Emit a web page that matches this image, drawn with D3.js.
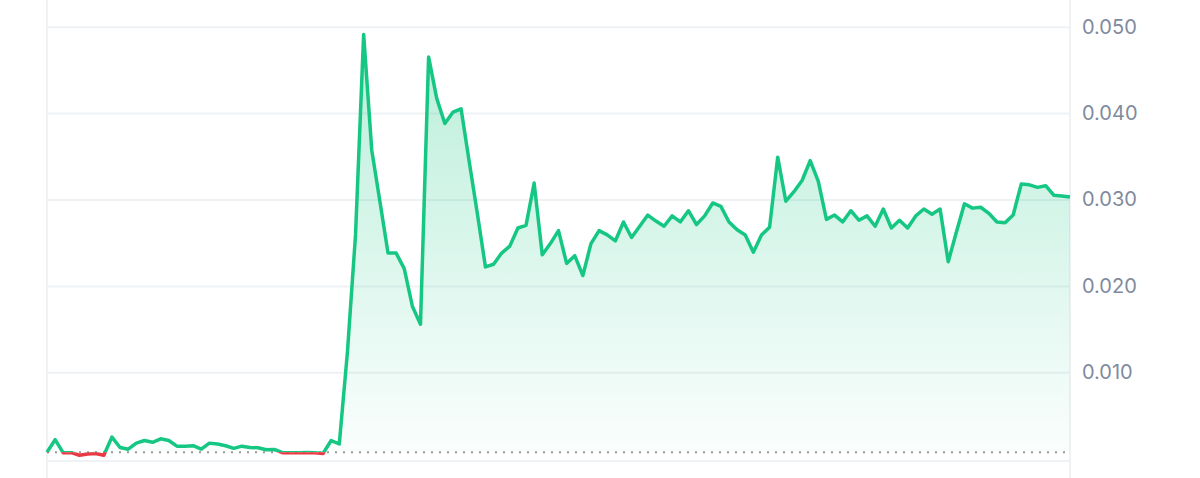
<!DOCTYPE html>
<html>
<head>
<meta charset="utf-8">
<script src="https://cdn.jsdelivr.net/npm/d3@7"></script>
<style>
  html, body { margin: 0; padding: 0; background: #fff; }
  svg { display: block; }
</style>
</head>
<body>
<div id="chart"></div>
<script>
(function () {
  'use strict';

  // price samples, left to right
  var prices = [
    0.00075, 0.0022, 0.00068, 0.0007, 0.0004, 0.00055, 0.0006, 0.0004, 0.0025, 0.0013,
    0.0011, 0.0018, 0.0021, 0.0019, 0.0023, 0.0021, 0.00145, 0.00145, 0.0015, 0.0011,
    0.0018, 0.0017, 0.0015, 0.0012, 0.00145, 0.0013, 0.00127, 0.00103, 0.00107, 0.0007,
    0.00068, 0.0007, 0.00071, 0.00069, 0.0006, 0.0021, 0.0017, 0.0123, 0.0259, 0.0491,
    0.0357, 0.0298, 0.0238, 0.0238, 0.0220, 0.01765, 0.01557, 0.0465, 0.0417, 0.0388,
    0.0401, 0.0405, 0.0344, 0.0284, 0.0222, 0.0225, 0.0238, 0.0246, 0.0267, 0.0270,
    0.0319, 0.0236, 0.0249, 0.0264, 0.0226, 0.0235, 0.0212, 0.0249, 0.0264, 0.0259,
    0.0252, 0.0274, 0.0256, 0.0269, 0.0282, 0.0275, 0.0269, 0.0281, 0.0274, 0.0287,
    0.0271, 0.0281, 0.0296, 0.0292, 0.0274, 0.0265, 0.0259, 0.0239, 0.0259, 0.0268,
    0.0349, 0.0298, 0.0309, 0.0322, 0.0345, 0.0321, 0.0277, 0.0282, 0.0274, 0.0287,
    0.0276, 0.0281, 0.0269, 0.0289, 0.0267, 0.0276, 0.0267, 0.0281, 0.0289, 0.0283,
    0.0289, 0.0228, 0.0262, 0.0295, 0.0290, 0.0291, 0.0284, 0.0274, 0.0273, 0.0282,
    0.0318, 0.0317, 0.0314, 0.0316, 0.0305, 0.0304, 0.0303
  ];

  var yTicks = [0.010, 0.020, 0.030, 0.040, 0.050];

  var width = 1200, height = 478;
  var left = 47, right = 1070, top = 0, bottom = 460.5;

  var green = "#16c784", red = "#ea3943";

  var svg = d3.select("#chart").append("svg")
      .attr("width", width)
      .attr("height", height);

  var x = d3.scaleLinear()
      .domain([0, prices.length - 1])
      .range([left, right]);

  var y = d3.scaleLinear()
      .domain([-0.00021, 0.05309])
      .range([bottom, top]);

  var baseValue = prices[0];
  var baseY = y(baseValue);

  var defs = svg.append("defs");

  var grad = defs.append("linearGradient")
      .attr("id", "areaFill")
      .attr("gradientUnits", "userSpaceOnUse")
      .attr("x1", 0).attr("x2", 0)
      .attr("y1", y(d3.max(prices))).attr("y2", baseY);
  grad.append("stop").attr("offset", "0%").attr("stop-color", green).attr("stop-opacity", 0.30);
  grad.append("stop").attr("offset", "100%").attr("stop-color", green).attr("stop-opacity", 0.02);

  defs.append("clipPath").attr("id", "clipAbove")
    .append("rect")
      .attr("x", 0).attr("y", 0)
      .attr("width", width).attr("height", baseY);

  defs.append("clipPath").attr("id", "clipBelow")
    .append("rect")
      .attr("x", 0).attr("y", baseY)
      .attr("width", width).attr("height", height - baseY);

  // gridlines
  svg.append("g")
      .attr("class", "grid")
      .attr("transform", "translate(" + left + ",0)")
      .call(d3.axisRight(y).tickValues(yTicks.concat([y.domain()[0]])).tickSize(right - left).tickFormat(""))
      .call(function (g) { g.select(".domain").remove(); })
      .selectAll("line")
        .attr("stroke", "#eff2f5")
        .attr("stroke-width", 2);

  // vertical frame lines
  svg.selectAll(".vline")
      .data([left, right])
      .enter().append("line")
        .attr("class", "vline")
        .attr("x1", function (d) { return d; })
        .attr("x2", function (d) { return d; })
        .attr("y1", 0)
        .attr("y2", height)
        .attr("stroke", "#eff2f5")
        .attr("stroke-width", 2);

  // area down to the opening price
  var area = d3.area()
      .x(function (d, i) { return x(i); })
      .y0(baseY)
      .y1(function (d) { return y(d); });

  svg.append("path")
      .datum(prices)
      .attr("d", area)
      .attr("clip-path", "url(#clipAbove)")
      .attr("fill", "url(#areaFill)");

  // dotted baseline
  svg.append("line")
      .attr("x1", left).attr("x2", right)
      .attr("y1", baseY).attr("y2", baseY)
      .attr("stroke", "#999")
      .attr("stroke-width", 2)
      .attr("stroke-dasharray", "2,6");

  var line = d3.line()
      .x(function (d, i) { return x(i); })
      .y(function (d) { return y(d); });

  svg.append("path")
      .datum(prices)
      .attr("d", line)
      .attr("clip-path", "url(#clipAbove)")
      .attr("fill", "none")
      .attr("stroke", green)
      .attr("stroke-width", 3.5)
      .attr("stroke-linejoin", "round");

  svg.append("path")
      .datum(prices)
      .attr("d", line)
      .attr("clip-path", "url(#clipBelow)")
      .attr("fill", "none")
      .attr("stroke", red)
      .attr("stroke-width", 3.5)
      .attr("stroke-linejoin", "round");

  // price axis on the right
  svg.append("g")
      .attr("transform", "translate(" + (right + 12) + ",0)")
      .call(d3.axisRight(y).tickValues(yTicks).tickSize(0).tickPadding(0).tickFormat(d3.format(".3f")))
      .call(function (g) { g.select(".domain").remove(); })
      .selectAll("text")
        .attr("fill", "#808a9d")
        .style("font-family", "Inter, 'Liberation Sans', Arial, sans-serif")
        .style("font-size", "20px");
}());
</script>
</body>
</html>
